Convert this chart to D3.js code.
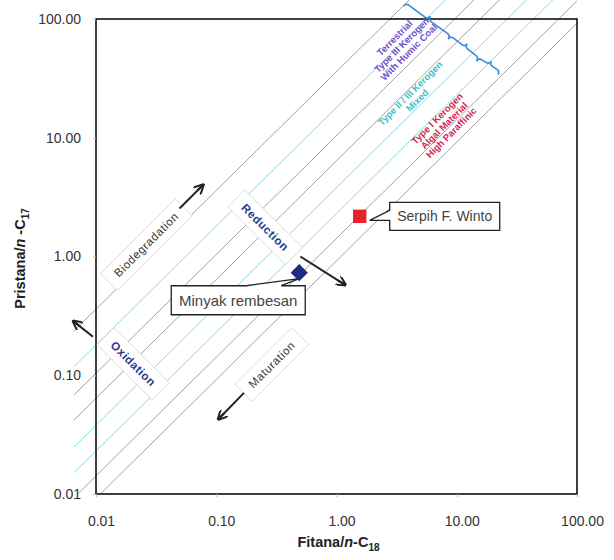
<!DOCTYPE html>
<html>
<head>
<meta charset="utf-8">
<script src="https://cdn.jsdelivr.net/npm/d3@7/dist/d3.min.js"></script>
<style>
  body { margin: 0; background: #fff; }
  svg { display: block; font-family: "Liberation Sans", Arial, sans-serif; }
</style>
</head>
<body>
<svg id="chart" width="614" height="560"></svg>
<script>
// samples plotted
const samples = ["Minyak rembesan", "Serpih F. Winto"];
const phytaneC18 = [0.49, 1.56];
const pristaneC17 = [0.73, 2.18];
const sampleShape = ["diamond", "square"];

// axis ticks
const tickValues = [0.01, 0.1, 1, 10, 100];
const tickLabels = ["0.01", "0.10", "1.00", "10.00", "100.00"];

// Pr/Ph guide lines (pristane/n-C17 = ratio * phytane/n-C18)
const lineRatios = [36, 18, 10.4, 6.4, 3.8, 2.3, 1.42, 0.92];
const lineKind = ["grey", "cyan", "grey", "grey", "cyan", "cyan", "grey", "grey"];

// process labels (centre in data units, arrow from/to in data units)
const processNames = ["Biodegradation", "Reduction", "Oxidation", "Maturation"];
const processAt = [[0.0262, 1.26], [0.255, 1.76], [0.0204, 0.125], [0.29, 0.123]];
const processArrowFrom = [[0.0495, 2.54], [0.5, 1.0], [0.00944, 0.211], [0.17, 0.0711]];
const processArrowTo = [[0.077, 3.97], [1.17, 0.58], [0.00655, 0.283], [0.105, 0.043]];

// kerogen zones
const zoneNames = [
  ["Terrestrial", "Type III Kerogen", "With Humic Coal"],
  ["Type II / III Kerogen", "Mixed"],
  ["Type I Kerogen", "Algal Material", "High Paraffinic"]
];
const zoneAt = [[3.5, 60], [4.4, 22], [7.9, 12.6]];
const braceStops = [[3.6, 128], [8.5, 67.8], [14.6, 44.2], [22, 34]];

const svg = d3.select("#chart");
const box = {left: 96, right: 577, top: 19, bottom: 494};

const x = d3.scaleLog().domain([0.01, 100]).range([box.left, box.right]);
const y = d3.scaleLog().domain([0.01, 100]).range([box.bottom, box.top]);

const colors = {grey: "#979797", cyan: "#86d3dc"};

svg.append("defs").append("clipPath").attr("id", "clip")
  .append("rect")
  .attr("x", 74).attr("y", 0)
  .attr("width", box.right - 74).attr("height", box.bottom);

// guide lines
svg.append("g").attr("clip-path", "url(#clip)")
  .selectAll("line")
  .data(lineRatios)
  .enter().append("line")
  .attr("x1", x(0.003)).attr("y1", function(d) { return y(0.003 * d); })
  .attr("x2", x(400)).attr("y2", function(d) { return y(400 * d); })
  .attr("stroke", function(d, i) { return colors[lineKind[i]]; })
  .attr("stroke-width", 0.9);

// frame
svg.append("rect")
  .attr("x", box.left).attr("y", box.top)
  .attr("width", box.right - box.left).attr("height", box.bottom - box.top)
  .attr("fill", "none").attr("stroke", "#111").attr("stroke-width", 1.6);

// axes
const yAxis = svg.append("g")
  .attr("transform", "translate(" + box.left + ",0)")
  .call(d3.axisLeft(y).tickValues(tickValues)
    .tickFormat(function(d, i) { return tickLabels[i]; })
    .tickSize(3).tickPadding(12));
const xAxis = svg.append("g")
  .attr("transform", "translate(0," + box.bottom + ")")
  .call(d3.axisBottom(x).tickValues(tickValues)
    .tickFormat(function(d, i) { return tickLabels[i]; })
    .tickSize(3).tickPadding(19));
[yAxis, xAxis].forEach(function(a) {
  a.select(".domain").remove();
  a.selectAll(".tick line").attr("stroke", "#bbb");
  a.selectAll(".tick text")
    .attr("font-size", 14).attr("fill", "#333")
    .attr("font-family", "Liberation Sans, Arial, sans-serif");
});
xAxis.selectAll(".tick text").attr("dx", 5);

// axis titles
const yt = svg.append("text")
  .attr("transform", "translate(25," + (y(1) + 2) + ") rotate(-90)")
  .attr("text-anchor", "middle").attr("font-size", 14.5).attr("font-weight", "bold").attr("fill", "#222");
yt.append("tspan").text("Pristana/");
yt.append("tspan").attr("font-style", "italic").text("n");
yt.append("tspan").text(" -C");
yt.append("tspan").attr("font-size", 10).attr("dy", 4).text("17");

const xt = svg.append("text")
  .attr("x", x(1) + 2).attr("y", 547)
  .attr("text-anchor", "middle").attr("font-size", 14.5).attr("font-weight", "bold").attr("fill", "#222");
xt.append("tspan").text("Fitana/");
xt.append("tspan").attr("font-style", "italic").text("n");
xt.append("tspan").text("-C");
xt.append("tspan").attr("font-size", 10).attr("dy", 4).text("18");

// process labels in rotated boxes
const procColor = ["#333", "#2b3a8f", "#2b3a8f", "#333"];
const procRot = [-45, 45, 45, -45];
const procWeight = ["normal", "bold", "bold", "normal"];
processNames.forEach(function(name, i) {
  const g = svg.append("g")
    .attr("transform", "translate(" + x(processAt[i][0]) + "," + y(processAt[i][1]) + ") rotate(" + procRot[i] + ")");
  const r = g.append("rect");
  const t = g.append("text")
    .attr("text-anchor", "middle").attr("dy", "0.35em")
    .attr("font-size", 11.5).attr("font-weight", procWeight[i])
    .attr("letter-spacing", 0.6)
    .attr("fill", procColor[i]).text(name);
  const len = t.node().getComputedTextLength();
  r.attr("x", -len / 2 - 10).attr("y", -12).attr("width", len + 20).attr("height", 24)
    .attr("fill", "#fff").attr("stroke", "#d4d4d4").attr("stroke-width", 0.8);
});

// process arrows
svg.append("defs").append("marker")
  .attr("id", "arrow").attr("viewBox", "0 0 10 10")
  .attr("refX", 8).attr("refY", 5)
  .attr("markerWidth", 5).attr("markerHeight", 5)
  .attr("orient", "auto-start-reverse")
  .append("path").attr("d", "M0,0 L10,5 L0,10 M10,5 L0,5")
  .attr("fill", "none").attr("stroke", "#222").attr("stroke-width", 2);

svg.selectAll("line.arrow")
  .data(processNames)
  .enter().append("line")
  .attr("class", "arrow")
  .attr("x1", function(d, i) { return x(processArrowFrom[i][0]); })
  .attr("y1", function(d, i) { return y(processArrowFrom[i][1]); })
  .attr("x2", function(d, i) { return x(processArrowTo[i][0]); })
  .attr("y2", function(d, i) { return y(processArrowTo[i][1]); })
  .attr("stroke", "#222").attr("stroke-width", 2)
  .attr("marker-end", "url(#arrow)");

// kerogen zone labels
const zoneColor = ["#7550c8", "#3cc3cc", "#d3285a"];
zoneNames.forEach(function(lines, i) {
  const t = svg.append("text")
    .attr("transform", "translate(" + x(zoneAt[i][0]) + "," + y(zoneAt[i][1]) + ") rotate(-45)")
    .attr("text-anchor", "middle").attr("font-size", 9.5).attr("font-weight", "bold")
    .attr("fill", zoneColor[i]);
  lines.forEach(function(l, j) {
    t.append("tspan").attr("x", 0)
      .attr("dy", j === 0 ? (-(lines.length - 1) * 10 / 2 + 3) : 10)
      .text(l);
  });
});

// braces
function bracePath(p0, p1, d) {
  const dx = p1[0] - p0[0], dy = p1[1] - p0[1], L = Math.hypot(dx, dy);
  const ux = dx / L, uy = dy / L, nx = uy, ny = -ux;
  const q = Math.min(4, L / 6);
  function pt(t, h) { return (p0[0] + ux * t + nx * h) + "," + (p0[1] + uy * t + ny * h); }
  return "M" + pt(0, 0) +
    "Q" + pt(0, d / 2) + " " + pt(q, d / 2) +
    "L" + pt(L / 2 - q, d / 2) +
    "Q" + pt(L / 2, d / 2) + " " + pt(L / 2, d) +
    "Q" + pt(L / 2, d / 2) + " " + pt(L / 2 + q, d / 2) +
    "L" + pt(L - q, d / 2) +
    "Q" + pt(L, d / 2) + " " + pt(L, 0);
}
for (let i = 0; i < braceStops.length - 1; i++) {
  const a = [x(braceStops[i][0]), y(braceStops[i][1])];
  const b = [x(braceStops[i + 1][0]), y(braceStops[i + 1][1])];
  svg.append("path").attr("d", bracePath(a, b, 8))
    .attr("fill", "none").attr("stroke", "#3a8ad6").attr("stroke-width", 1.6);
}

// callouts
function calloutPath(bx0, by0, bx1, by1, side, w0, w1, tip) {
  if (side === "top") {
    return "M" + bx0 + "," + by0 + "L" + w0 + "," + by0 + "L" + tip[0] + "," + tip[1] +
      "L" + w1 + "," + by0 + "L" + bx1 + "," + by0 + "L" + bx1 + "," + by1 +
      "L" + bx0 + "," + by1 + "Z";
  }
  return "M" + bx0 + "," + by0 + "L" + bx1 + "," + by0 + "L" + bx1 + "," + by1 +
    "L" + bx0 + "," + by1 + "L" + bx0 + "," + w1 + "L" + tip[0] + "," + tip[1] +
    "L" + bx0 + "," + w0 + "Z";
}
const px0 = x(phytaneC18[0]), py0 = y(pristaneC17[0]);
const px1 = x(phytaneC18[1]), py1 = y(pristaneC17[1]);
svg.append("path")
  .attr("d", calloutPath(px0 - 128, py0 + 13, px0 + 6, py0 + 42, "top", px0 - 53, px0 - 18, [px0, py0 + 6]))
  .attr("fill", "#fff").attr("stroke", "#222").attr("stroke-width", 1.3);
svg.append("text").attr("x", px0 - 61).attr("y", py0 + 33)
  .attr("text-anchor", "middle").attr("font-size", 15).attr("fill", "#444").text(samples[0]);
svg.append("path")
  .attr("d", calloutPath(px1 + 30, py1 - 14, px1 + 140, py1 + 14, "left", py1 - 6, py1 + 4, [px1 + 10, py1 + 4]))
  .attr("fill", "#fff").attr("stroke", "#222").attr("stroke-width", 1.3);
svg.append("text").attr("x", px1 + 85).attr("y", py1 + 5)
  .attr("text-anchor", "middle").attr("font-size", 14).attr("fill", "#444").text(samples[1]);

// sample markers
const shapeColor = {diamond: "#1e2a84", square: "#e8222c"};
svg.selectAll("path.sample")
  .data(samples)
  .enter().append("path")
  .attr("class", "sample")
  .attr("transform", function(d, i) {
    return "translate(" + x(phytaneC18[i]) + "," + y(pristaneC17[i]) + ")";
  })
  .attr("d", function(d, i) {
    return d3.symbol().type(sampleShape[i] === "diamond" ? d3.symbolDiamond2 : d3.symbolSquare)
      .size(sampleShape[i] === "diamond" ? 190 : 180)();
  })
  .attr("fill", function(d, i) { return shapeColor[sampleShape[i]]; });
</script>
</body>
</html>
